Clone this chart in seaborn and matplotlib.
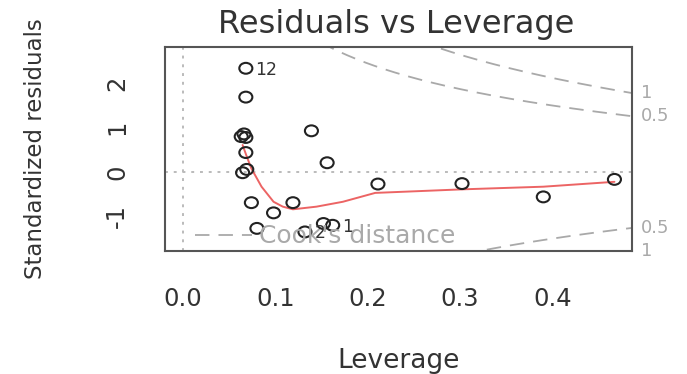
import numpy as np
import pandas as pd
import matplotlib
matplotlib.use("Agg")
import matplotlib.pyplot as plt
from matplotlib.path import Path
from matplotlib.markers import MarkerStyle
from matplotlib.lines import Line2D
import seaborn as sns

# Leverage (hat values) and standardized residuals of the fitted model
leverage = [0.068, 0.068, 0.063, 0.066, 0.068, 0.068, 0.0645, 0.069, 0.074,
            0.098, 0.119, 0.080, 0.132, 0.152, 0.162, 0.139, 0.156, 0.211,
            0.302, 0.390, 0.467]
std_resid = [2.34, 1.69, 0.80, 0.86, 0.78, 0.44, -0.015, 0.06, -0.69,
             -0.92, -0.69, -1.27, -1.35, -1.16, -1.20, 0.93, 0.21, -0.27,
             -0.26, -0.56, -0.165]

# Observations flagged with their row numbers
id_labels = ["12", "2", "1"]
id_index = [0, 12, 14]

# Smoothed trend of residuals against leverage
smooth_x = [0.0645, 0.069, 0.074, 0.085, 0.098, 0.108, 0.119, 0.1445,
            0.173, 0.208, 0.302, 0.390, 0.467]
smooth_y = [0.61, 0.35, 0.08, -0.33, -0.67, -0.78, -0.84, -0.78,
            -0.67, -0.47, -0.39, -0.33, -0.22]

# Cook's distance contour levels and number of model parameters
cook_levels = [0.5, 1.0]
cook_level_labels = ["0.5", "1"]
n_params = 3

x_ticks = [0.0, 0.1, 0.2, 0.3, 0.4]
x_tick_labels = ["0.0", "0.1", "0.2", "0.3", "0.4"]
y_ticks = [-1, 0, 1, 2]
y_tick_labels = ["-1", "0", "1", "2"]

sns.set_style("white")
plt.rcParams["font.family"] = ["DejaVu Sans"]

TEXT = "#333333"
GREY = "#a9a9a9"
RED = "#ec6464"

W, H = 687, 374
fig = plt.figure(figsize=(W / 100, H / 100), dpi=100)
ax = fig.add_axes([165 / W, 1 - 251 / H, (632 - 165) / W, (251 - 47) / H])

xmin, xmax = -0.0195, 0.486
ymin, ymax = -1.78, 2.82
ax.set_xlim(xmin, xmax)
ax.set_ylim(ymin, ymax)

# reference lines at zero
ax.axhline(0, color="#bbbbbb", lw=1.4, ls=(0, (1.5, 3)), zorder=1)
ax.axvline(0, color="#bbbbbb", lw=1.4, ls=(0, (1.5, 3)), zorder=1)

# Cook's distance contours
hh = np.linspace(0.004, xmax, 300)
for lev in cook_levels:
    ch = np.sqrt(lev * n_params * (1 - hh) / hh)
    for sgn in (1, -1):
        ax.plot(hh, sgn * ch, color=GREY, lw=1.3, ls=(0, (8, 5)), zorder=2)

# smoothed trend
sns.lineplot(x=smooth_x, y=smooth_y, color=RED, lw=1.4, sort=False,
             estimator=None, ax=ax, zorder=3)

# open points (slightly wide ellipses)
circ = Path.unit_circle()
ell = Path(circ.vertices * np.array([1.2, 1.0]), circ.codes)
df = pd.DataFrame({"leverage": leverage, "resid": std_resid})
sns.scatterplot(data=df, x="leverage", y="resid", marker=MarkerStyle(ell),
                s=88, facecolor="none", edgecolor="#222222", linewidth=1.5,
                ax=ax, zorder=4, legend=False)

for lab, i in zip(id_labels, id_index):
    ax.annotate(lab, (leverage[i], std_resid[i]), xytext=(7, -1),
                textcoords="offset points", ha="left", va="center",
                fontsize=12.5, color=TEXT, zorder=5)

# contour level labels on the right border
for lev, lab in zip(cook_levels, cook_level_labels):
    v = np.sqrt(lev * n_params * (1 - xmax) / xmax)
    for sgn in (1, -1):
        ax.text(1.02, sgn * v, lab, transform=ax.get_yaxis_transform(),
                ha="left", va="center", fontsize=13, color=GREY, clip_on=False)

leg = ax.legend(handles=[Line2D([], [], color=GREY, lw=1.3, ls=(0, (8, 5)))],
                labels=["Cook's distance"], loc="center left",
                bbox_to_anchor=(0.064, 0.072), frameon=False, fontsize=18,
                labelcolor=GREY, handlelength=2.3, handletextpad=0.25,
                borderpad=0, borderaxespad=0)
leg.set_zorder(6)

ax.set_xticks(x_ticks)
ax.set_xticklabels(x_tick_labels)
ax.set_yticks(y_ticks)
ax.set_yticklabels(y_tick_labels, rotation=90, va="center")
ax.tick_params(axis="both", length=12, width=1.3, color="#444444",
               labelcolor=TEXT, labelsize=17.5, direction="out")
ax.tick_params(axis="x", pad=14)
ax.tick_params(axis="y", pad=14)

for sp in ax.spines.values():
    sp.set_visible(True)
    sp.set_color("#555555")
    sp.set_linewidth(1.5)

ax.set_xlabel("Leverage", fontsize=19, color=TEXT)
ax.xaxis.label.set_va("baseline")
ax.xaxis.set_label_coords(0.5, (251 - 368) / 204)
ax.set_ylabel("Standardized residuals", fontsize=16.5, color=TEXT)
ax.yaxis.label.set_va("center")
ax.yaxis.set_label_coords((36 - 165) / 467, 0.5)

fig.text(396 / W, 1 - 33 / H, "Residuals vs Leverage", ha="center",
         va="baseline", fontsize=23, color=TEXT)

fig.savefig("out.png", dpi=100, facecolor="white")
